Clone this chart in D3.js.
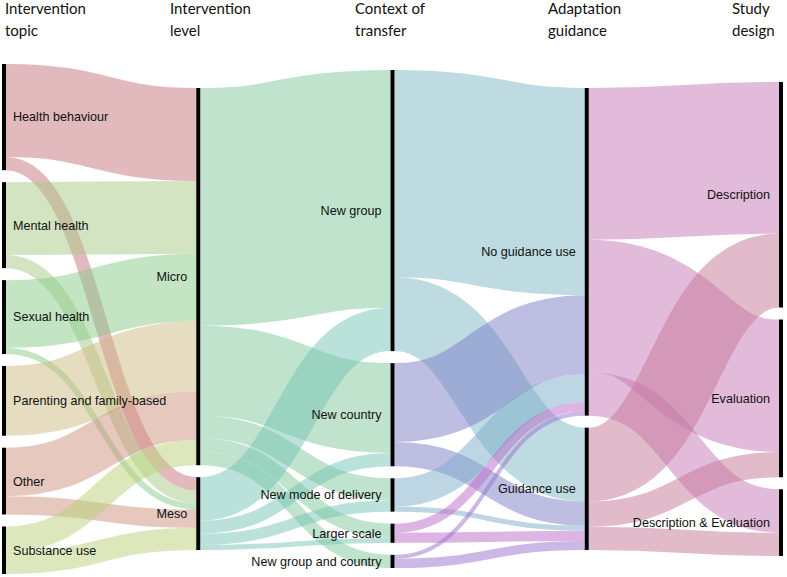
<!DOCTYPE html>
<html>
<head>
<meta charset="utf-8">
<script src="https://cdn.jsdelivr.net/npm/d3@7"></script>
<style>
  body { margin: 0; background: #fff; }
  .label { font-family: "Liberation Sans", Arial, Helvetica, sans-serif; font-size: 12.6px; fill: #111; }
  .header { font-family: Lato, "Open Sans", sans-serif; font-size: 15px; fill: #111; }
</style>
</head>
<body>
<svg id="chart" width="787" height="577"></svg>
<script>
// column categories
var topics = ["Health behaviour", "Mental health", "Sexual health", "Parenting and family-based", "Other", "Substance use"];
var levels = ["Micro", "Meso"];
var contexts = ["New group", "New country", "New mode of delivery", "Larger scale", "New group and country"];
var guidance = ["No guidance use", "Guidance use"];
var designs = ["Description", "Evaluation", "Description & Evaluation"];

var headers = [["Intervention", "topic"], ["Intervention", "level"], ["Context of", "transfer"], ["Adaptation", "guidance"], ["Study", "design"]];

// flows, rows = source category, columns = target category
var topicToLevel = [[92, 13], [72, 13], [67, 6], [69, 0], [48, 18], [25, 22]];
var levelToContext = [[235, 89, 22, 14, 13], [43, 13, 11, 5, 0]];
var contextToGuidance = [[205, 73], [78, 24], [28, 5], [9, 10], [4, 9]];
var guidanceToDesign = [[150, 131, 43], [73, 25, 23]];

// node colours
var topicColors = ["#c5737b", "#a7c985", "#87cb89", "#cdb981", "#cf917d", "#b9d179"];
var levelColors = ["#7fc799", "#75c5b5"];
var contextColors = ["#7bb7c3", "#7d7dc7", "#7dadc9", "#bb69c7", "#9971cd"];
var guidanceColors = ["#c577b7", "#c57797"];
var designColors = ["#c577b7", "#c57797", "#c5779f"];

var columns = [topics, levels, contexts, guidance, designs];
var colColors = [topicColors, levelColors, contextColors, guidanceColors, designColors];
var flows = [topicToLevel, levelToContext, contextToGuidance, guidanceToDesign];

var svg = d3.select("#chart"),
    nodeWidth = 4,
    nodePadding = 12,
    yTop = 64,
    yBottom = 574,
    headerX = [5, 170, 355, 548, 732];

var x = d3.scaleLinear().domain([0, columns.length - 1]).range([2, 779]);

// build nodes
var nodes = columns.map(function (names, c) {
  return names.map(function (name, i) {
    return { name: name, col: c, index: i, color: colColors[c][i], sourceLinks: [], targetLinks: [] };
  });
});

// build links
var links = [];
flows.forEach(function (m, c) {
  m.forEach(function (row, s) {
    row.forEach(function (v, t) {
      if (v > 0) {
        var l = { source: nodes[c][s], target: nodes[c + 1][t], value: v };
        links.push(l);
        l.source.sourceLinks.push(l);
        l.target.targetLinks.push(l);
      }
    });
  });
});

nodes.forEach(function (col) {
  col.forEach(function (n) {
    n.value = Math.max(d3.sum(n.sourceLinks, function (l) { return l.value; }),
                       d3.sum(n.targetLinks, function (l) { return l.value; }));
  });
});

// vertical scale, from the most crowded column
var ky = d3.min(nodes, function (col) {
  return (yBottom - yTop - (col.length - 1) * nodePadding) / d3.sum(col, function (n) { return n.value; });
});
var maxTotal = d3.max(nodes, function (col) { return d3.sum(col, function (n) { return n.value; }); });
var y = d3.scaleLinear().domain([0, maxTotal]).range([0, maxTotal * ky]);

var mid = (yTop + yBottom) / 2;
nodes.forEach(function (col, c) {
  var h = y(d3.sum(col, function (n) { return n.value; })) + (col.length - 1) * nodePadding;
  var y0 = mid - h / 2;
  col.forEach(function (n) {
    n.x0 = x(c);
    n.x1 = n.x0 + nodeWidth;
    n.y0 = y0;
    n.y1 = y0 + y(n.value);
    y0 = n.y1 + nodePadding;
  });
});

// link positions inside nodes
nodes.forEach(function (col) {
  col.forEach(function (n) {
    var sy = n.y0, ty = n.y0;
    n.sourceLinks.sort(function (a, b) { return a.target.index - b.target.index; });
    n.targetLinks.sort(function (a, b) { return a.source.index - b.source.index; });
    n.sourceLinks.forEach(function (l) { l.width = y(l.value); l.y0 = sy + l.width / 2; sy += l.width; });
    n.targetLinks.forEach(function (l) { l.y1 = ty + y(l.value) / 2; ty += y(l.value); });
  });
});

var link = d3.linkHorizontal()
  .source(function (d) { return [d.source.x1, d.y0]; })
  .target(function (d) { return [d.target.x0, d.y1]; });

svg.append("g")
  .attr("fill", "none")
  .selectAll("path")
  .data(links)
  .join("path")
  .attr("d", link)
  .attr("stroke", function (d) { return d.source.color; })
  .attr("stroke-opacity", 0.5)
  .attr("stroke-width", function (d) { return Math.max(1, d.width); });

var allNodes = d3.merge(nodes);

svg.append("g")
  .selectAll("rect")
  .data(allNodes)
  .join("rect")
  .attr("x", function (d) { return d.x0; })
  .attr("y", function (d) { return d.y0; })
  .attr("width", nodeWidth)
  .attr("height", function (d) { return d.y1 - d.y0; })
  .attr("fill", "#000");

svg.append("g")
  .selectAll("text")
  .data(allNodes)
  .join("text")
  .attr("class", "label")
  .attr("x", function (d) { return d.col === 0 ? d.x1 + 7 : d.x0 - 9; })
  .attr("y", function (d) { return (d.y0 + d.y1) / 2; })
  .attr("dy", "0.35em")
  .attr("text-anchor", function (d) { return d.col === 0 ? "start" : "end"; })
  .text(function (d) { return d.name; });

var head = svg.append("g")
  .selectAll("text")
  .data(headers)
  .join("text")
  .attr("class", "header")
  .attr("x", function (d, i) { return headerX[i]; })
  .attr("y", 14);

head.selectAll("tspan")
  .data(function (d) { return d; })
  .join("tspan")
  .attr("x", function () { return d3.select(this.parentNode).attr("x"); })
  .attr("dy", function (d, i) { return i === 0 ? 0 : 22; })
  .text(function (d) { return d; });
</script>
</body>
</html>
